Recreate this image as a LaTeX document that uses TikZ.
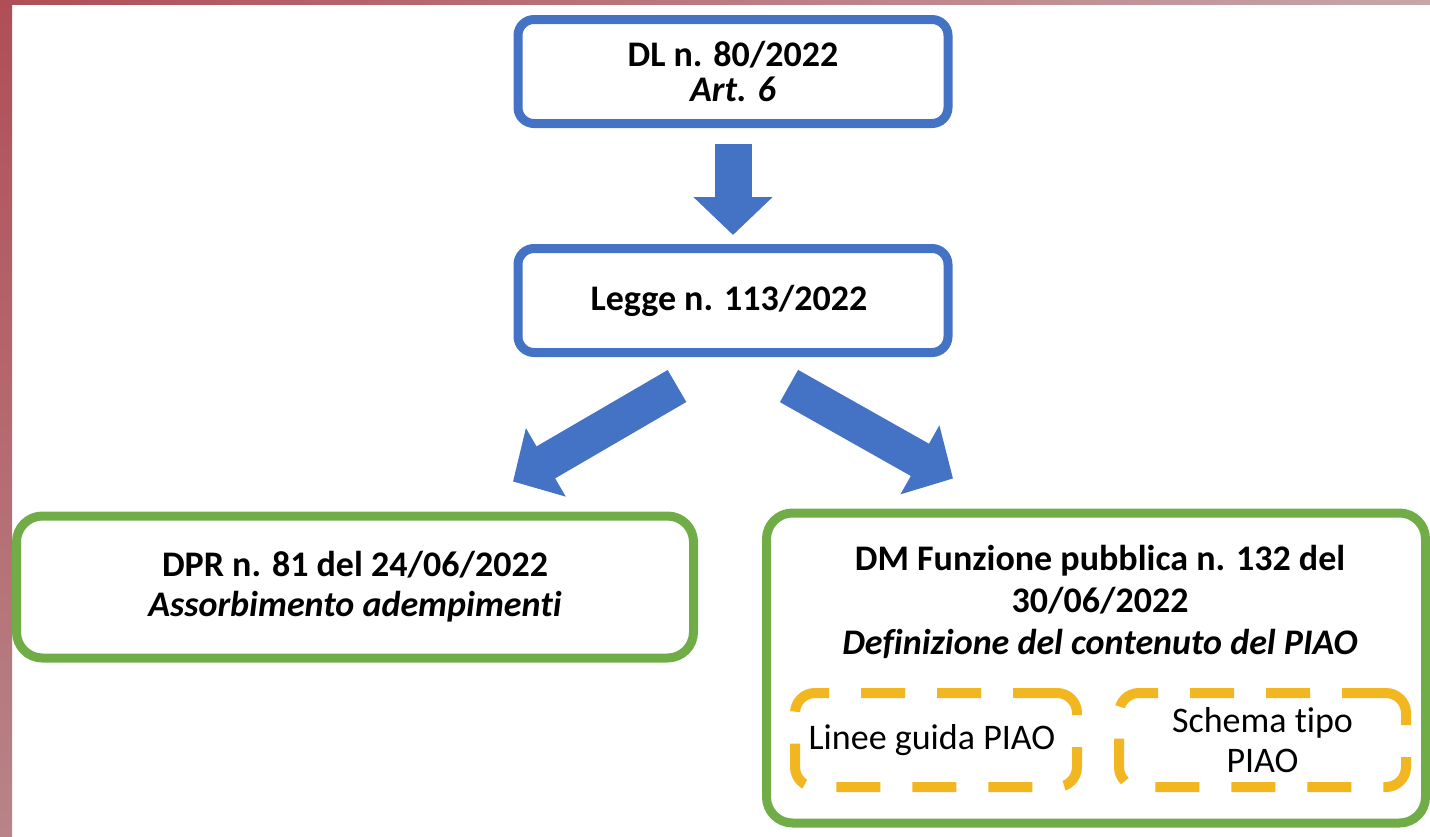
\documentclass[tikz,border=0pt]{standalone}
\usepackage{fontspec}
\setmainfont{Carlito}[Ligatures=NoCommon]
\usetikzlibrary{arrows.meta,positioning}

\definecolor{lawblue}{HTML}{4472C4}
\definecolor{lawgreen}{HTML}{70AD47}
\definecolor{piaoyellow}{HTML}{F2B621}
\definecolor{frameA}{HTML}{B04E57}
\definecolor{frameB}{HTML}{B88487}
\definecolor{frameC}{HTML}{C6A6A9}

\begin{document}
\begin{tikzpicture}[
  x=0.5pt, y=-0.5pt,
  lawbox/.style={rectangle, rounded corners=8pt, draw=lawblue, line width=4.5pt, fill=white,
    align=center, font=\fontsize{18}{17.5}\selectfont\bfseries, minimum width=215pt, minimum height=52pt},
  decbox/.style={rectangle, rounded corners=13pt, draw=lawgreen, line width=4.5pt, fill=white,
    align=center, font=\fontsize{18}{20}\selectfont\bfseries},
  piaobox/.style={rectangle, rounded corners=10pt, draw=piaoyellow, line width=5pt,
    dash pattern=on 22pt off 16pt, align=center, font=\fontsize{18}{20}\selectfont,
    minimum height=47pt},
  bigarrow/.style={draw=lawblue, line width=18.5pt, -{Triangle[length=19pt, width=38.5pt]}}
  ]
  \useasboundingbox (0,0) rectangle (1430,836);
  \fill[top color=frameA, bottom color=frameB] (0,0) rectangle (12,836);
  \fill[left color=frameA, right color=frameC] (0,0) rectangle (1430,4);

  \node[lawbox] (dl) at (733,71.5) { DL n. 80/2022\\\textit{Art. 6} };
  \node[lawbox, below=58pt of dl] (legge) { Legge n. 113/2022 };

  \node[decbox, minimum width=338.5pt, minimum height=71pt] (dpr) at (355,587)
    { DPR n. 81 del 24/06/2022\\\textit{Assorbimento adempimenti} };
  \node[decbox, minimum width=329.5pt, minimum height=155pt] (dm) at (1096,668) {};
  \node[inner sep=0pt, align=center, font=\fontsize{18}{21}\selectfont\bfseries] (dmtext) at (1100,602)
    { DM Funzione pubblica n. 132 del\\30/06/2022\\\textit{Definizione del contenuto del PIAO} };

  \node[piaobox, minimum width=141pt] (linee) at (936,740) { Linee guida PIAO };
  \node[piaobox, minimum width=143.5pt] (schema) at (1262.5,740) { Schema tipo\\PIAO };

  \coordinate (lt) at ([xshift=-28pt, yshift=-14.5pt]legge.south);
  \coordinate (rt) at ([xshift=28pt, yshift=-14.5pt]legge.south);
  \coordinate (lh) at ([xshift=79pt, yshift=15pt]dpr.north);
  \coordinate (rh) at ([xshift=-71.5pt, yshift=15pt]dm.north);

  \draw[bigarrow, shorten <=8pt, shorten >=4.5pt] (dl) -- (legge);
  \draw[bigarrow] (lt) -- (lh);
  \draw[bigarrow] (rt) -- (rh);
\end{tikzpicture}
\end{document}
